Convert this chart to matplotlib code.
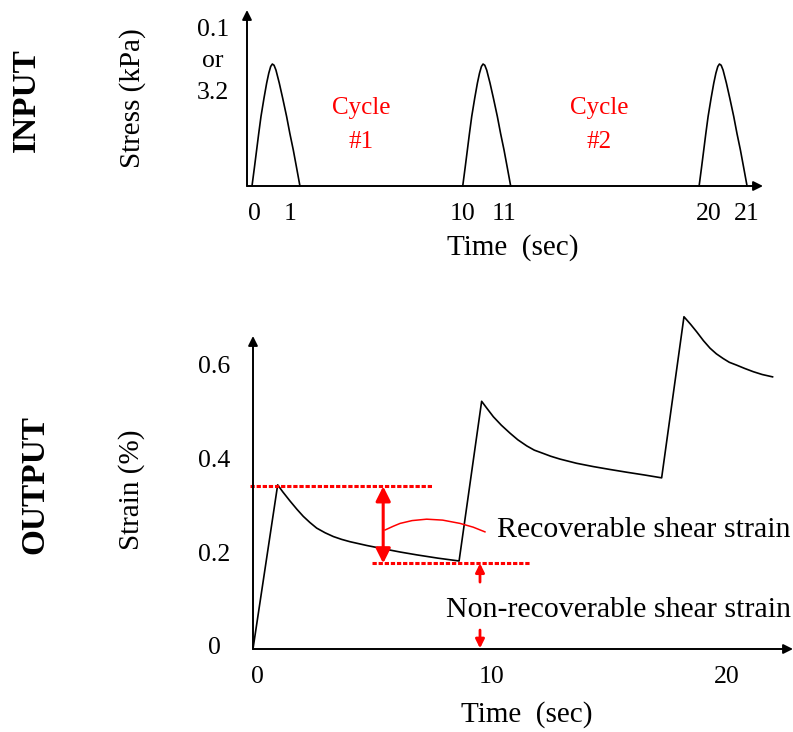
import matplotlib
matplotlib.use('Agg')
import matplotlib.pyplot as plt

plt.rcParams['font.family'] = ['Liberation Serif', 'DejaVu Serif']

# ---- input: stress pulses (one pulse shape, reused per cycle)
pulse_u = [0.0, 0.05, 0.097, 0.14, 0.1875, 0.25, 0.306, 0.35, 0.39, 0.424,
           0.46, 0.5, 0.569, 0.64, 0.722, 0.79, 0.861, 0.93, 1.0]
pulse_h = [0.0, 0.15, 0.296, 0.43, 0.57, 0.72, 0.844, 0.925, 0.98, 1.0,
           0.99, 0.95, 0.844, 0.72, 0.57, 0.43, 0.296, 0.15, 0.0]
pulse_starts = [0.0, 9.45, 20.05]
pulse_width = 2.15

stress_tick_pos = [0.13, 1.7, 9.46, 11.3, 20.5, 22.2]
stress_tick_labels = ['0', '1', '10', '11', '20', '21']

# ---- output: strain response
strain_t = [-0.17, 0.88, 1.1, 1.4, 1.7, 1.97, 2.25, 2.54, 2.9, 3.25, 3.6, 3.96,
            4.67, 5.37, 6.1, 6.8, 7.7, 8.6,
            9.56, 9.8, 10.06, 10.4, 10.77, 11.1, 11.48, 11.8, 12.18, 12.5, 12.89,
            13.6, 14.31, 15.0, 15.73, 16.5, 17.22,
            18.17, 18.45, 18.71, 19.0, 19.28, 19.55, 19.84, 20.1, 20.41, 20.75,
            21.12, 21.5, 21.94]
strain = [-0.006, 0.343, 0.328, 0.309, 0.291, 0.276, 0.263, 0.251, 0.241, 0.233,
          0.227, 0.222, 0.214, 0.207, 0.200, 0.194, 0.187, 0.181,
          0.521, 0.505, 0.488, 0.470, 0.453, 0.439, 0.426, 0.417, 0.410, 0.404,
          0.398, 0.389, 0.382, 0.376, 0.370, 0.364, 0.358,
          0.701, 0.685, 0.669, 0.650, 0.634, 0.622, 0.612, 0.604, 0.598, 0.591,
          0.584, 0.578, 0.573]

strain_ticks = [0, 0.2, 0.4, 0.6]
strain_tick_labels = ['0', '0.2', '0.4', '0.6']
time_ticks = [0, 10, 20]

# recoverable / non-recoverable markers
peak_level = 0.340
valley_level = 0.176
leader_t = [5.45, 5.8, 6.09, 6.6, 7.22, 7.9, 8.64, 9.2, 9.7]
leader_s = [0.247, 0.255, 0.261, 0.267, 0.270, 0.268, 0.261, 0.253, 0.243]

RED = '#ff0000'

fig = plt.figure(figsize=(7.93, 7.32), dpi=100)

# ================= INPUT =================
ax1 = fig.add_axes([247 / 793, 1 - 186 / 732, (763 - 247) / 793, (186 - 10) / 732])
for s0 in pulse_starts:
    ax1.plot([s0 + u * pulse_width for u in pulse_u], pulse_h, color='k', lw=1.2,
             clip_on=False)
ax1.set_xlim(-0.224, 22.915)
ax1.set_ylim(0, 1.443)
for sp in ax1.spines.values():
    sp.set_visible(False)
ax1.annotate('', xy=(1, 0), xytext=(0, 0), xycoords='axes fraction',
             arrowprops=dict(arrowstyle='-|>', color='k', lw=1.4, mutation_scale=14,
                             shrinkA=0, shrinkB=0))
ax1.annotate('', xy=(0, 1), xytext=(0, 0), xycoords='axes fraction',
             arrowprops=dict(arrowstyle='-|>', color='k', lw=1.4, mutation_scale=14,
                             shrinkA=0, shrinkB=0))
ax1.set_xticks(stress_tick_pos, stress_tick_labels)
ax1.set_yticks([1.08], ['0.1\nor\n3.2'])
ax1.tick_params(axis='x', length=0, pad=12, labelsize=18.5)
ax1.tick_params(axis='y', length=0, pad=24.5, labelsize=18.5)
for lbl in ax1.get_yticklabels():
    lbl.set_ha('center')
    lbl.set_linespacing(1.55)
ax1.set_xlabel('Time  (sec)', fontsize=21)
ax1.xaxis.label.set_va('center')
ax1.xaxis.set_label_coords((513 - 247) / 516, (186 - 248) / 176)
ax1.set_ylabel('Stress (kPa)', fontsize=21)
ax1.yaxis.label.set_va('center')
ax1.yaxis.set_label_coords((132.5 - 247) / 516, (186 - 98) / 176)
ax1.text(4.89, 0.5, 'Cycle\n#1', color=RED, fontsize=18, ha='center', va='center',
         linespacing=1.7)
ax1.text(15.56, 0.5, 'Cycle\n#2', color=RED, fontsize=18, ha='center', va='center',
         linespacing=1.7)

# ================= OUTPUT =================
ax2 = fig.add_axes([253 / 793, 1 - 649 / 732, (793 - 253) / 793, (649 - 336) / 732])
ax2.plot(strain_t, strain, color='k', lw=1.2, clip_on=False)
ax2.set_xlim(-0.17, 22.81)
ax2.set_ylim(-0.0064, 0.66)
for sp in ax2.spines.values():
    sp.set_visible(False)
ax2.annotate('', xy=(1, 0), xytext=(0, 0), xycoords='axes fraction',
             arrowprops=dict(arrowstyle='-|>', color='k', lw=1.4, mutation_scale=14,
                             shrinkA=0, shrinkB=0))
ax2.annotate('', xy=(0, 1), xytext=(0, 0), xycoords='axes fraction',
             arrowprops=dict(arrowstyle='-|>', color='k', lw=1.4, mutation_scale=14,
                             shrinkA=0, shrinkB=0))
ax2.set_xticks(time_ticks, [str(t) for t in time_ticks])
ax2.set_yticks(strain_ticks, strain_tick_labels)
ax2.tick_params(axis='x', length=0, pad=12, labelsize=18.5)
ax2.tick_params(axis='y', length=0, pad=28, labelsize=18.5)
for lbl in ax2.get_yticklabels():
    lbl.set_ha('center')
ax2.set_xlabel('Time  (sec)', fontsize=21)
ax2.xaxis.label.set_va('center')
ax2.xaxis.set_label_coords((527 - 253) / 540, (649 - 715) / 313)
ax2.set_ylabel('Strain (%)', fontsize=21)
ax2.yaxis.label.set_va('center')
ax2.yaxis.set_label_coords((132 - 253) / 540, (649 - 490) / 313)

# dashed reference lines
ax2.plot([-0.3, 7.43], [peak_level, peak_level], color=RED, lw=2.2,
         ls=(0, (1.4, 0.6)), clip_on=False)
ax2.plot([4.91, 11.62], [valley_level, valley_level], color=RED, lw=2.2,
         ls=(0, (1.4, 0.6)), clip_on=False)
# recoverable double arrow
ax2.annotate('', xy=(5.37, valley_level), xytext=(5.37, peak_level),
             arrowprops=dict(arrowstyle='<|-|>', color=RED, lw=2.2, mutation_scale=22,
                             shrinkA=0, shrinkB=0))
ax2.plot(leader_t, leader_s, color=RED, lw=1.1)
ax2.text(10.21, 0.247, 'Recoverable shear strain', fontsize=21.5, ha='left', va='center')
# non-recoverable arrows
ax2.annotate('', xy=(9.49, valley_level), xytext=(9.49, 0.136),
             arrowprops=dict(arrowstyle='-|>', color=RED, lw=2, mutation_scale=13,
                             shrinkA=0, shrinkB=0))
ax2.annotate('', xy=(9.49, -0.005), xytext=(9.49, 0.034),
             arrowprops=dict(arrowstyle='-|>', color=RED, lw=2, mutation_scale=13,
                             shrinkA=0, shrinkB=0))
ax2.text(8.04, 0.077, 'Non-recoverable shear strain', fontsize=21.5, ha='left', va='center')

fig.text(26.7 / 793, 1 - 100 / 732, 'INPUT', fontsize=24, fontweight='bold',
         rotation=90, ha='center', va='center')
fig.text(35 / 793, 1 - 485 / 732, 'OUTPUT', fontsize=24, fontweight='bold',
         rotation=90, ha='center', va='center')

plt.savefig('out.png', dpi=100)
